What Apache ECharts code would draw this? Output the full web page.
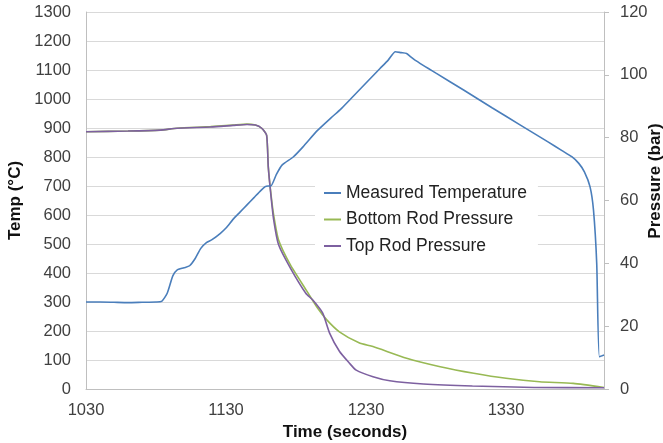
<!DOCTYPE html>
<html><head><meta charset="utf-8">
<script src="https://cdn.jsdelivr.net/npm/echarts@6/dist/echarts.min.js"></script>
<style>html,body{margin:0;padding:0;background:#fff;overflow:hidden;width:100%;height:100%}#c{position:absolute;left:0;top:0;width:663px;height:443px}</style>
</head><body><div id="c"></div>
<script>
const xTicks = [1030, 1130, 1230, 1330];
const tempTime = [1030,1040,1050,1060,1070,1080,1084,1088,1092,1095,1100,1104,1108,1112,1116,1120,1126,1130,1135,1140,1145,1150,1155,1158,1160,1162,1166,1170,1178,1185,1195,1205,1212,1219,1230,1240,1246,1251,1255,1259,1262,1265,1280,1300,1320,1340,1360,1370,1377,1382,1386,1390,1392.5,1394.8,1396.7,1400];
const tempValues = [300,300,299,298,299,300,302,330,390,410,418,425,450,485,505,515,537,555,585,610,635,660,685,698,700,700,740,772,800,835,890,935,965,1000,1055,1105,1135,1163,1160,1157,1145,1134,1089,1030,970,911,852,822,801,778,749,698,617,433,111,117];
const bottomTime = [1030,1060,1083,1095,1119,1135,1145,1151,1155.5,1159,1160.2,1162,1164,1167.5,1176,1188,1195,1202,1211,1225,1235,1259,1283,1307,1330,1354,1378,1400];
const bottomValues = [81.9,82.1,82.4,83.0,83.5,84.0,84.3,84.0,83.0,80.8,70.7,62.5,55.5,47.5,39.5,31.0,26.0,22.0,18.2,14.7,13.5,9.8,7.1,5.0,3.4,2.3,1.8,0.5];
const topTime = [1030,1060,1083,1095,1119,1135,1145,1151,1155.5,1159,1160.2,1162,1164,1167.5,1176,1187,1192,1199,1204,1211,1218,1223,1235,1247,1271,1306,1350,1400];
const topValues = [81.9,82.1,82.4,83.0,83.4,83.9,84.2,84.0,83.0,80.8,70.7,62.0,54.0,46.0,38.5,30.5,28.3,24.2,17.8,12.0,8.3,6.0,3.9,2.6,1.6,0.95,0.5,0.4];
const rightAxisTitle = 'Pressure (bar)';

function pairs(t, v){ return t.map((x,i)=>[x, v[i]]); }
const chart = echarts.init(document.getElementById('c'), null, {width: 663, height: 443});
const lblColor = '#404040';
const font = 'Liberation Sans, Arial, sans-serif';
chart.setOption({
  animation: false,
  textStyle: {fontFamily: font},
  grid: {left: 86, right: 59, top: 12, bottom: 54, containLabel: false, outerBoundsMode: 'none'},
  legend: {
    orient: 'vertical', left: 315, top: 173,
    backgroundColor: '#fff', padding: [11, 11, 10, 9],
    icon: 'rect', itemWidth: 17, itemHeight: 2, itemGap: 8.5,
    textStyle: {fontSize: 17.5, color: '#222', fontFamily: font},
    data: ['Measured Temperature', 'Bottom Rod Pressure', 'Top Rod Pressure']
  },
  graphic: [{
    type: 'text', x: 655, y: 181, rotation: Math.PI / 2,
    style: {text: rightAxisTitle, fontFamily: font, fontWeight: 'bold', fontSize: 17, fill: '#111',
      textAlign: 'center', textVerticalAlign: 'middle'}
  }],
  xAxis: {
    type: 'value', min: 1030, max: 1400, interval: 100,
    name: 'Time (seconds)', nameLocation: 'middle', nameGap: 35,
    nameTextStyle: {fontWeight: 'bold', fontSize: 17, color: '#111'},
    axisLine: {show: true, lineStyle: {color: '#bfbfbf'}},
    axisTick: {show: false},
    splitLine: {show: false},
    axisLabel: {fontSize: 16.5, color: lblColor, margin: 13, showMaxLabel: false,
      formatter: v => xTicks.includes(v) ? String(v) : ''}
  },
  yAxis: [{
    type: 'value', min: 0, max: 1300, interval: 100,
    name: 'Temp (°C)', nameLocation: 'middle', nameGap: 58, nameRotate: 90,
    nameTextStyle: {fontWeight: 'bold', fontSize: 17, color: '#111'},
    axisLine: {show: true, lineStyle: {color: '#bfbfbf'}},
    axisTick: {show: false},
    splitLine: {show: true, lineStyle: {color: '#d9d9d9', width: 1}},
    axisLabel: {fontSize: 16.5, color: lblColor, margin: 15, formatter: v => String(v)}
  }, {
    type: 'value', min: 0, max: 120, interval: 20, position: 'right',
    axisLine: {show: true, lineStyle: {color: '#bfbfbf'}},
    axisTick: {show: true, length: 5, lineStyle: {color: '#bfbfbf'}},
    splitLine: {show: false},
    axisLabel: {fontSize: 16.5, color: lblColor, margin: 16, formatter: v => String(v)}
  }],
  series: [{
    name: 'Measured Temperature', type: 'line', yAxisIndex: 0, showSymbol: false, smooth: 0.2,
    lineStyle: {color: '#4a7ebb', width: 1.6}, itemStyle: {color: '#4a7ebb'},
    data: pairs(tempTime, tempValues), z: 3
  }, {
    name: 'Bottom Rod Pressure', type: 'line', yAxisIndex: 1, showSymbol: false, smooth: 0.2,
    lineStyle: {color: '#98b954', width: 1.6}, itemStyle: {color: '#98b954'},
    data: pairs(bottomTime, bottomValues), z: 2
  }, {
    name: 'Top Rod Pressure', type: 'line', yAxisIndex: 1, showSymbol: false, smooth: 0.2,
    lineStyle: {color: '#7d60a0', width: 1.6}, itemStyle: {color: '#7d60a0'},
    data: pairs(topTime, topValues), z: 2
  }]
});
</script></body></html>
